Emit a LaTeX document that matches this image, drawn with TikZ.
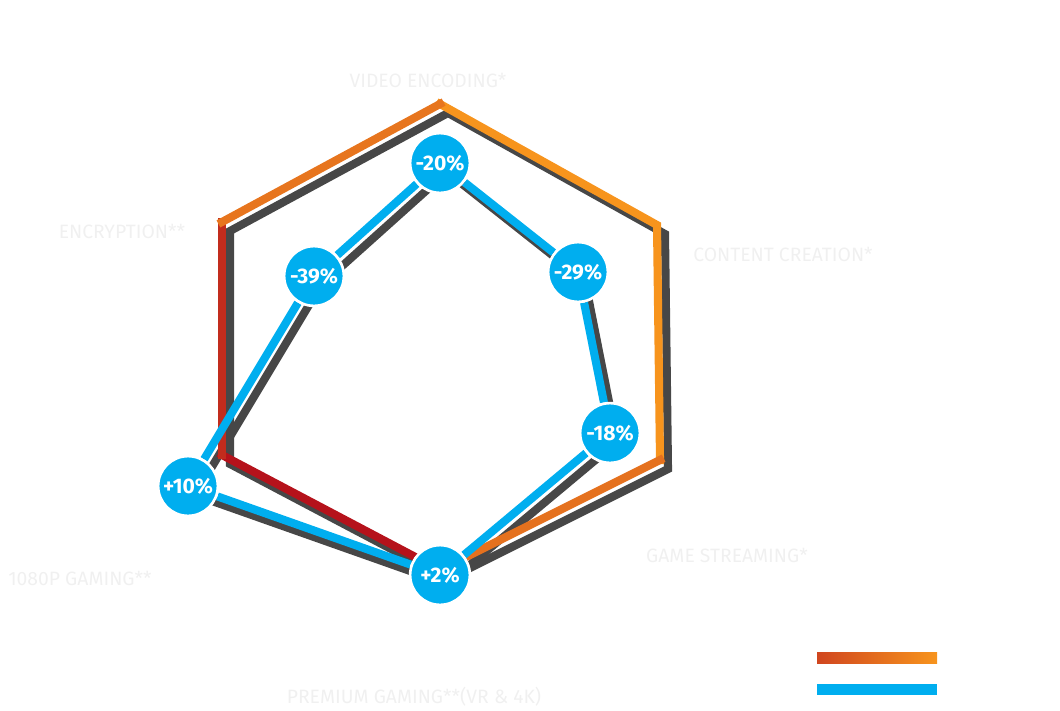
\documentclass[tikz,border=0pt]{standalone}
\usepackage{fontspec}
\setmainfont{Fira Sans}
\usetikzlibrary{backgrounds}
\begin{document}
\begin{tikzpicture}[
                x=0.02cm, y=-0.02cm,
                hexline/.style={line width=4.6pt, line join=miter, line cap=rect},
                blueline/.style={line width=4.6pt, color=cyanblue},
                shadowline/.style={line width=4.6pt, color=black!72},
                pct/.style={circle, fill=cyanblue, draw=white, line width=1.5pt,
                    minimum size=34pt, inner sep=0pt, text=white,
                    font=\bfseries\fontsize{12}{12}\selectfont},
                axislabel/.style={text=black!6, font=\fontsize{11}{11}\selectfont}
            ]
                \definecolor{cyanblue}{HTML}{00AEEF}
                \definecolor{darkred}{HTML}{B5121B}
                \definecolor{rust}{HTML}{D0461F}
                \definecolor{amber}{HTML}{F7941D}
                \useasboundingbox (0,0) rectangle (1060,710);
                % ecken des sechsecks
                \coordinate (ht) at (440,104);
                \coordinate (hur) at (657,225);
                \coordinate (hlr) at (660,460);
                \coordinate (hb) at (440,570);
                \coordinate (hll) at (222,455);
                \coordinate (hul) at (222,222);
                % werte
                \node[pct] (video) at (440,163) {-20\%};
                \node[pct] (content) at (578,272) {-29\%};
                \node[pct] (stream) at (610,433) {-18\%};
                \node[pct] (premium) at (440,575) {+2\%};
                \node[pct] (hd) at (188,486) {+10\%};
                \node[pct] (crypt) at (314,276) {-39\%};
                \begin{pgfonlayer}{background}
                % schatten
                \draw[shadowline] ([shift={(8,9)}]ht) -- ([shift={(8,9)}]hur) -- ([shift={(8,9)}]hlr)
                    -- ([shift={(8,9)}]hb) -- ([shift={(8,9)}]hll) -- ([shift={(8,9)}]hul) -- cycle;
                \draw[shadowline] ([shift={(7,9)}]video.center) -- ([shift={(7,9)}]content.center)
                    -- ([shift={(7,9)}]stream.center) -- ([shift={(7,9)}]premium.center)
                    -- ([shift={(7,9)}]hd.center) -- ([shift={(7,9)}]crypt.center) -- cycle;
                % sechseck
                \draw[hexline, amber] (ht) -- (hur) -- (hlr);
                \draw[hexline, color=amber!55!rust] (hlr) -- (hb);
                \draw[hexline, darkred] (hb) -- (hll);
                \draw[hexline, color=darkred!50!rust] (hll) -- (hul);
                \draw[hexline, color=rust!40!amber] (hul) -- (ht);
                % blaue linie
                \draw[blueline] (video) -- (content);
                \draw[blueline] (content) -- (stream);
                \draw[blueline] (stream) -- (premium);
                \draw[blueline] (premium) -- (hd);
                \draw[blueline] (hd) -- (crypt);
                \draw[blueline] (crypt) -- (video);
                \end{pgfonlayer}
                % achsen
                \node[axislabel] (lvideo) at (428,80) {VIDEO ENCODING*};
                \node[axislabel] (lcrypt) at (122,231) {ENCRYPTION**};
                \node[axislabel] (lcontent) at (783,254) {CONTENT CREATION*};
                \node[axislabel] (lstream) at (727,555) {GAME STREAMING*};
                \node[axislabel] (lhd) at (80,578) {1080P GAMING**};
                \node[axislabel] (lpremium) at (414,697) {PREMIUM GAMING**(VR \& 4K)};
                % legende
                \shade[left color=rust, right color=amber] (817,652) rectangle (937,663);
                \fill[cyanblue] (817,684) rectangle (937,695);
            \end{tikzpicture}
\end{document}
